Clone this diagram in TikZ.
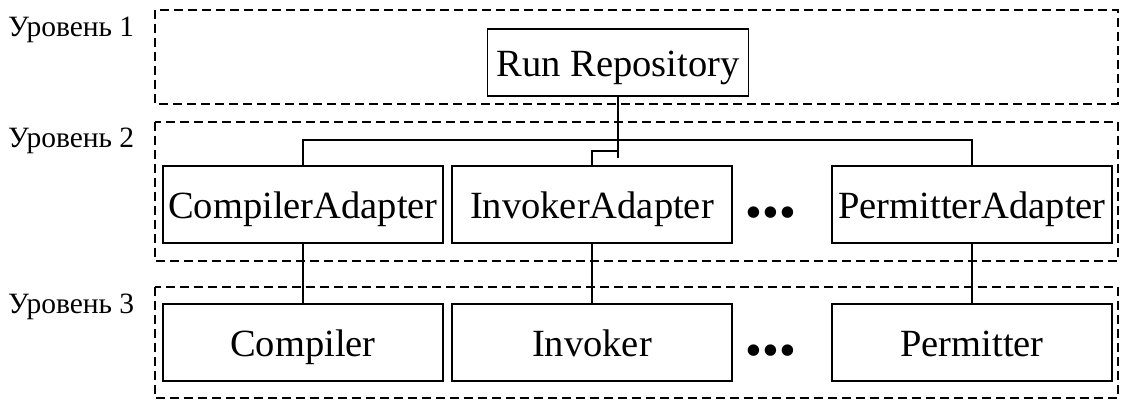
\documentclass[tikz,border=0pt]{standalone}
\usepackage{fontspec}
\setmainfont{Liberation Serif}
\usetikzlibrary{positioning, calc}

\begin{document}
\begin{tikzpicture}[
        x=1pt, y=-1pt,
        box/.style={rectangle, draw, line width=1.6pt, minimum width=280pt, minimum height=77pt, inner sep=0pt, text height=32pt, text depth=4pt, align=center, font=\fontsize{38.5}{40}\selectfont},
        level/.style={draw, line width=1.6pt, dash pattern=on 9pt off 5pt},
        lvl/.style={anchor=base west, inner sep=0pt, font=\fontsize{29.5}{31}\selectfont},
        dots/.style={inner sep=0pt, font=\fontsize{48}{48}\selectfont},
        link/.style={line width=1.6pt}
    ]
        \useasboundingbox (0,0) rectangle (1122,400);

        % Levels
        \draw[level] (155,10) rectangle (1118,104);
        \draw[level] (155,122) rectangle (1118,261);
        \draw[level] (155,287) rectangle (1118,398);
        \node[lvl] (lvl1) at (8,36) {Уровень 1};
        \node[lvl] (lvl2) at (8,147) {Уровень 2};
        \node[lvl] (lvl3) at (8,313) {Уровень 3};

        % Repository
        \node[box, minimum width=261pt, minimum height=67pt] (run) at (618,62.5) {Run Repository};

        % Adapters
        \node[box] (cadapt) at (303,204.5) {CompilerAdapter};
        \node[box] (iadapt) at (592,204.5) {InvokerAdapter};
        \node[dots] (dots2) at (771,218) {\textbullet\textbullet\textbullet};
        \node[box] (padapt) at (972,204.5) {PermitterAdapter};

        % Tools
        \node[box] (comp) at (303,342.5) {Compiler};
        \node[box] (inv) at (592,342.5) {Invoker};
        \node[dots] (dots3) at (771,356) {\textbullet\textbullet\textbullet};
        \node[box] (perm) at (972,342.5) {Permitter};

        % Links
        \coordinate (busR) at (972,140);
        \draw[link] (run.south) -- ++(0,61);
        \draw[link] (cadapt.north) |- (busR) -- (padapt.north);
        \draw[link] (iadapt.north) -- ++(0,-14) -| (run.south);
        \draw[link] (cadapt) -- (comp);
        \draw[link] (iadapt) -- (inv);
        \draw[link] (padapt) -- (perm);
    \end{tikzpicture}
\end{document}
